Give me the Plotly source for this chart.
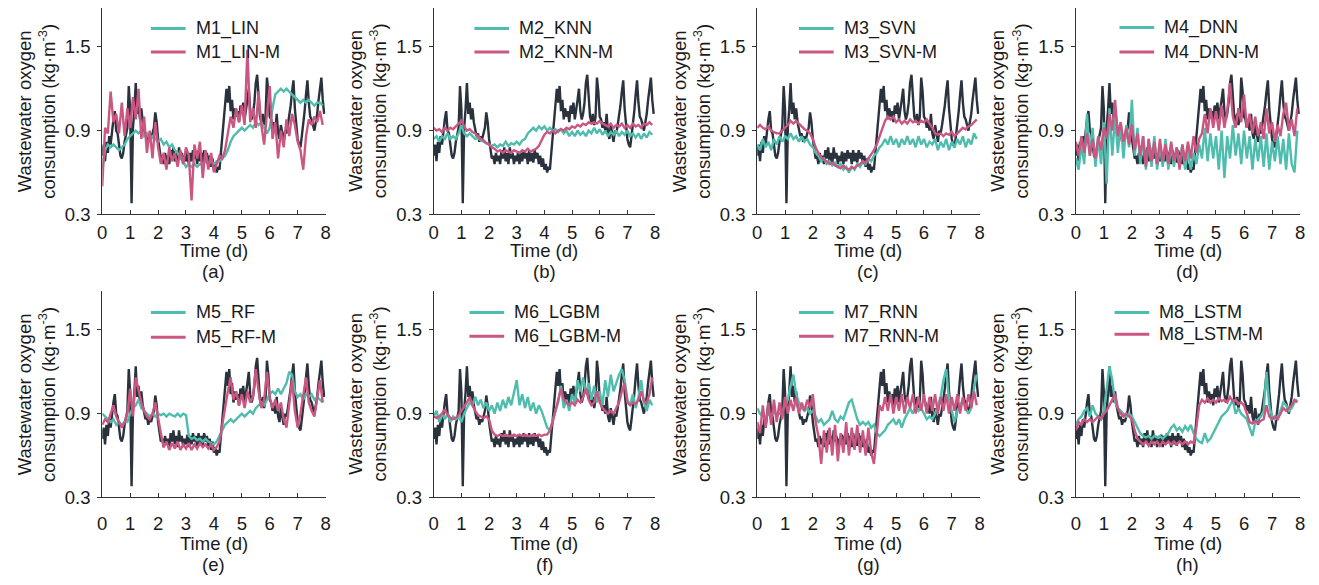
import plotly.graph_objects as go

W, H = 1319, 585

# Time grids (days)
T_OBS = [round(i * 0.05, 2) for i in range(160)]
T_MOD = [round(i * 0.1, 1) for i in range(80)]

# Measured wastewater oxygen consumption (kg/m3), every 0.05 d
OBSERVED = [
    0.72, 0.80, 0.68, 0.82, 0.74, 0.86, 0.80, 0.92, 0.98, 1.04, 0.90, 0.88, 0.80, 0.72, 0.70, 0.74, 0.82, 0.88, 0.92, 1.22,
    1.05, 0.38, 0.92, 1.05, 1.24, 1.02, 1.10, 0.98, 1.06, 0.96, 0.92, 0.86, 0.88, 0.82, 0.86, 0.84, 0.88, 0.92, 1.03, 0.96,
    0.84, 0.78, 0.70, 0.72, 0.66, 0.74, 0.68, 0.72, 0.66, 0.76, 0.70, 0.78, 0.68, 0.74, 0.66, 0.78, 0.70, 0.74, 0.66, 0.72,
    0.68, 0.75, 0.66, 0.74, 0.68, 0.76, 0.70, 0.74, 0.66, 0.76, 0.68, 0.74, 0.67, 0.76, 0.70, 0.74, 0.66, 0.72, 0.64, 0.70,
    0.62, 0.66, 0.60, 0.64, 0.62, 0.74, 0.86, 0.98, 1.12, 1.20, 1.10, 1.22, 1.04, 1.12, 0.98, 1.06, 1.00, 1.04, 0.96, 1.08,
    1.02, 1.10, 0.98, 1.04, 1.12, 1.20, 1.04, 0.98, 1.02, 1.10, 1.24, 1.30, 1.10, 1.00, 0.96, 1.02, 0.94, 1.00, 1.28, 1.18,
    1.00, 0.98, 0.92, 0.96, 0.90, 1.02, 0.88, 0.84, 0.94, 0.86, 0.82, 0.90, 0.88, 0.94, 1.00, 1.08, 1.18, 1.26, 1.06, 0.92,
    0.84, 0.80, 0.78, 0.86, 0.94, 1.04, 1.16, 1.26, 1.10, 1.00, 0.98, 0.94, 0.90, 0.96, 1.02, 1.12, 1.22, 1.28, 1.12, 1.02,
]

# Model predictions (kg/m3), every 0.1 d
M1_LIN = [
    0.62, 0.76, 0.80, 0.78, 0.80, 0.78, 0.76, 0.78, 0.80, 0.84,
    0.86, 0.88, 0.90, 0.88, 0.90, 0.86, 0.88, 0.84, 0.86, 0.84,
    0.82, 0.84, 0.80, 0.82, 0.78, 0.80, 0.76, 0.74, 0.70, 0.68,
    0.64, 0.66, 0.64, 0.66, 0.64, 0.66, 0.66, 0.68, 0.66, 0.68,
    0.66, 0.68, 0.68, 0.70, 0.72, 0.76, 0.82, 0.86, 0.88, 0.90,
    0.92, 0.90, 0.92, 0.94, 0.92, 0.96, 0.94, 0.96, 0.92, 0.88,
    0.92, 1.06, 1.16, 1.18, 1.20, 1.18, 1.20, 1.18, 1.16, 1.14,
    1.12, 1.10, 1.12, 1.10, 1.12, 1.10, 1.08, 1.10, 1.10, 1.08,
]
M1_LIN_M = [
    0.50, 0.92, 0.88, 1.18, 0.96, 1.02, 0.88, 1.10, 0.86, 1.06,
    0.92, 1.14, 0.98, 1.20, 0.84, 1.00, 0.74, 0.90, 0.70, 0.96,
    0.78, 0.66, 0.74, 0.62, 0.78, 0.68, 0.74, 0.64, 0.76, 0.66,
    0.78, 0.72, 0.40, 0.80, 0.70, 0.82, 0.56, 0.76, 0.62, 0.74,
    0.60, 0.66, 0.72, 0.70, 0.76, 0.88, 1.00, 0.92, 1.06, 0.96,
    1.08, 0.94, 1.48, 0.96, 1.06, 0.92, 1.18, 0.94, 0.80, 1.02,
    1.22, 0.84, 0.96, 0.70, 0.90, 0.78, 0.98, 0.86, 1.02, 0.94,
    0.82, 0.76, 0.62, 0.86, 0.98, 0.94, 1.00, 0.96, 1.04, 0.94,
]
M2_KNN = [
    0.84, 0.86, 0.82, 0.86, 0.84, 0.88, 0.84, 0.86, 0.84, 0.88,
    0.94, 0.88, 0.86, 0.88, 0.86, 0.84, 0.85, 0.83, 0.82, 0.81,
    0.80, 0.79, 0.80, 0.78, 0.80, 0.79, 0.82, 0.79, 0.81, 0.80,
    0.82, 0.80, 0.83, 0.84, 0.88, 0.90, 0.92, 0.90, 0.93, 0.91,
    0.93, 0.90, 0.92, 0.90, 0.91, 0.89, 0.91, 0.88, 0.90, 0.86,
    0.89, 0.86, 0.90, 0.87, 0.89, 0.86, 0.90, 0.88, 0.92, 0.88,
    0.91, 0.87, 0.90, 0.86, 0.89, 0.87, 0.90, 0.86, 0.89, 0.87,
    0.90, 0.86, 0.88, 0.85, 0.88, 0.84, 0.88, 0.85, 0.89, 0.87,
]
M2_KNN_M = [
    0.92, 0.90, 0.91, 0.89, 0.92, 0.90, 0.92, 0.91, 0.93, 0.95,
    0.97, 0.93, 0.90, 0.91, 0.89, 0.88, 0.86, 0.84, 0.83, 0.81,
    0.80, 0.78, 0.77, 0.75, 0.76, 0.74, 0.76, 0.75, 0.74, 0.76,
    0.75, 0.74, 0.76, 0.75, 0.77, 0.75, 0.76, 0.77, 0.79, 0.83,
    0.87, 0.89, 0.88, 0.90, 0.88, 0.90, 0.91, 0.90, 0.92, 0.91,
    0.93, 0.92, 0.94, 0.93, 0.95, 0.94, 0.96, 0.95, 0.96, 0.95,
    0.97, 0.95, 0.94, 0.93, 0.95, 0.92, 0.94, 0.93, 0.95, 0.92,
    0.94, 0.92, 0.95, 0.93, 0.94, 0.92, 0.95, 0.94, 0.96, 0.94,
]
M3_SVN = [
    0.80, 0.76, 0.84, 0.78, 0.82, 0.76, 0.84, 0.80, 0.86, 0.82,
    0.86, 0.84, 0.88, 0.84, 0.86, 0.82, 0.86, 0.82, 0.84, 0.80,
    0.78, 0.74, 0.72, 0.68, 0.70, 0.66, 0.68, 0.65, 0.67, 0.64,
    0.66, 0.62, 0.64, 0.60, 0.64, 0.62, 0.66, 0.64, 0.68, 0.66,
    0.70, 0.68, 0.72, 0.74, 0.78, 0.80, 0.84, 0.80, 0.86, 0.80,
    0.84, 0.78, 0.84, 0.80, 0.86, 0.80, 0.84, 0.78, 0.86, 0.80,
    0.84, 0.78, 0.82, 0.80, 0.84, 0.76, 0.82, 0.78, 0.84, 0.76,
    0.82, 0.78, 0.84, 0.80, 0.86, 0.78, 0.84, 0.80, 0.88, 0.84,
]
M3_SVN_M = [
    0.92, 0.94, 0.92, 0.91, 0.93, 0.90, 0.89, 0.88, 0.88, 0.90,
    0.92, 0.94, 0.97, 0.95, 0.97, 0.95, 0.93, 0.91, 0.90, 0.88,
    0.84, 0.78, 0.74, 0.71, 0.69, 0.68, 0.66, 0.67, 0.65, 0.64,
    0.63, 0.65, 0.63, 0.62, 0.64, 0.63, 0.65, 0.66, 0.68, 0.67,
    0.70, 0.73, 0.76, 0.80, 0.86, 0.92, 0.97, 1.00, 0.98, 1.00,
    0.96, 0.98, 0.95, 0.97, 0.95, 0.98, 0.96, 0.97, 0.95, 0.97,
    0.96, 0.98, 0.95, 0.92, 0.88, 0.87, 0.88, 0.86, 0.88, 0.87,
    0.89, 0.86, 0.88, 0.90, 0.92, 0.91, 0.93, 0.94, 0.96, 0.98,
]
M4_DNN = [
    0.70, 0.62, 0.80, 0.66, 1.02, 0.72, 0.92, 0.64, 0.86, 0.66,
    0.96, 0.52, 1.06, 0.72, 1.00, 0.74, 0.96, 0.70, 0.94, 0.78,
    1.12, 0.72, 0.92, 0.66, 0.86, 0.62, 0.84, 0.64, 0.86, 0.62,
    0.80, 0.64, 0.84, 0.62, 0.80, 0.64, 0.78, 0.66, 0.80, 0.62,
    0.76, 0.62, 0.74, 0.66, 0.80, 0.70, 0.92, 0.68, 0.88, 0.70,
    0.86, 0.62, 0.90, 0.56, 0.86, 0.70, 0.94, 0.72, 0.88, 0.66,
    0.90, 0.70, 0.86, 0.62, 0.84, 0.68, 0.86, 0.64, 0.88, 0.62,
    0.82, 0.68, 0.86, 0.66, 0.84, 0.62, 0.88, 0.66, 0.60, 0.90,
]
M4_DNN_M = [
    0.82, 0.72, 0.86, 0.74, 0.88, 0.72, 0.84, 0.70, 0.86, 0.76,
    0.92, 0.84, 1.02, 0.90, 1.12, 0.86, 0.96, 0.82, 0.92, 0.80,
    0.94, 0.76, 0.88, 0.72, 0.86, 0.64, 0.84, 0.68, 0.82, 0.66,
    0.84, 0.68, 0.80, 0.66, 0.82, 0.68, 0.78, 0.62, 0.80, 0.68,
    0.82, 0.70, 0.86, 0.74, 0.84, 0.88, 1.02, 0.88, 1.06, 0.92,
    1.04, 0.90, 1.08, 0.92, 1.04, 1.24, 1.00, 0.92, 1.06, 0.96,
    1.16, 0.92, 1.02, 0.88, 1.00, 0.86, 0.96, 0.84, 1.06, 0.88,
    0.96, 0.82, 0.94, 0.86, 1.02, 1.10, 0.90, 0.98, 0.86, 1.06,
]
M5_RF = [
    0.90, 0.88, 0.86, 0.84, 0.86, 0.82, 0.84, 0.82, 0.84, 0.84,
    0.90, 0.94, 0.96, 1.00, 0.94, 0.92, 0.90, 0.88, 0.90, 0.88,
    0.90, 0.89, 0.90, 0.88, 0.90, 0.89, 0.88, 0.90, 0.88, 0.90,
    0.89, 0.74, 0.72, 0.73, 0.71, 0.72, 0.70, 0.72, 0.70, 0.69,
    0.68, 0.70, 0.74, 0.78, 0.82, 0.84, 0.86, 0.84, 0.86, 0.88,
    0.90, 0.88, 0.90, 0.92, 0.90, 0.94, 0.96, 0.98, 0.96, 1.00,
    1.04, 1.06, 1.04, 1.08, 1.04, 1.08, 1.12, 1.20, 1.18, 1.06,
    1.02, 1.04, 1.00, 1.04, 1.02, 1.04, 1.00, 1.02, 1.00, 0.98,
]
M5_RF_M = [
    0.82, 0.86, 0.84, 0.90, 0.96, 0.88, 0.84, 0.80, 0.84, 0.90,
    1.08, 0.88, 1.16, 1.06, 0.98, 0.92, 0.88, 0.86, 0.90, 0.98,
    0.86, 0.76, 0.66, 0.70, 0.64, 0.69, 0.65, 0.70, 0.64, 0.68,
    0.65, 0.69, 0.64, 0.68, 0.65, 0.69, 0.66, 0.68, 0.65, 0.68,
    0.64, 0.66, 0.70, 0.82, 0.96, 1.06, 1.16, 1.00, 1.06, 0.96,
    1.04, 0.94, 1.06, 0.98, 1.02, 1.22, 1.06, 0.94, 1.00, 1.20,
    1.02, 0.94, 1.00, 0.92, 0.98, 0.86, 0.80, 0.96, 1.14, 0.92,
    0.80, 0.90, 1.02, 1.16, 0.98, 0.92, 0.88, 1.00, 1.14, 0.98,
]
M6_LGBM = [
    0.88, 0.92, 0.84, 0.90, 0.86, 0.90, 0.84, 0.88, 0.86, 0.88,
    0.84, 0.90, 0.94, 0.98, 0.96, 1.02, 0.96, 1.00, 0.94, 0.98,
    0.92, 0.96, 0.90, 0.98, 0.92, 1.00, 0.94, 1.02, 0.96, 1.06,
    1.14, 0.96, 1.04, 0.94, 1.02, 0.92, 0.98, 0.90, 0.96, 0.92,
    0.86, 0.80, 0.78, 0.86, 0.92, 0.98, 1.10, 0.94, 1.00, 0.92,
    1.04, 0.98, 1.14, 1.06, 1.16, 1.04, 1.12, 1.00, 1.10, 0.98,
    1.06, 0.96, 1.14, 1.02, 1.18, 1.06, 1.12, 1.18, 1.22, 1.14,
    1.00, 0.96, 1.04, 0.94, 1.02, 1.14, 0.98, 0.92, 1.00, 0.96,
]
M6_LGBM_M = [
    0.88, 0.87, 0.88, 0.90, 0.93, 0.89, 0.87, 0.86, 0.87, 0.89,
    0.92, 0.95, 0.98, 1.02, 0.96, 0.92, 0.89, 0.88, 0.87, 0.88,
    0.86, 0.78, 0.75, 0.74, 0.75, 0.74, 0.75, 0.74, 0.74, 0.75,
    0.74, 0.75, 0.74, 0.75, 0.74, 0.74, 0.75, 0.74, 0.75, 0.74,
    0.75, 0.75, 0.78, 0.84, 0.92, 1.00, 1.08, 1.00, 0.98, 0.96,
    0.98, 0.96, 1.00, 0.98, 1.02, 1.08, 1.00, 0.96, 0.98, 1.06,
    0.98, 0.94, 0.92, 0.90, 0.92, 0.90, 0.94, 0.98, 1.06, 1.12,
    0.98, 0.96, 0.98, 0.97, 1.00, 1.06, 0.99, 0.98, 1.04, 1.16,
]
M7_RNN = [
    0.94, 0.90, 0.88, 0.86, 0.90, 0.88, 0.92, 0.88, 0.90, 0.92,
    0.96, 1.00, 1.10, 1.18, 1.04, 0.98, 0.94, 0.92, 0.94, 0.90,
    0.92, 0.88, 0.84, 0.86, 0.82, 0.84, 0.86, 0.92, 0.86, 0.84,
    0.88, 0.86, 0.92, 0.98, 1.00, 0.92, 0.86, 0.82, 0.84, 0.82,
    0.84, 0.80, 0.82, 0.76, 0.74, 0.76, 0.78, 0.82, 0.84, 0.86,
    0.82, 0.86, 0.80, 0.86, 0.90, 0.94, 0.90, 0.96, 0.92, 0.94,
    0.90, 0.86, 0.88, 0.86, 0.90, 0.96, 1.02, 1.14, 1.22, 1.00,
    0.92, 0.84, 0.92, 0.96, 1.00, 0.94, 0.90, 0.94, 1.08, 1.18,
]
M7_RNN_M = [
    0.84, 0.76, 0.96, 0.80, 0.98, 0.82, 1.00, 0.84, 0.98, 0.86,
    1.02, 0.90, 1.00, 0.92, 1.02, 0.90, 0.98, 0.92, 1.00, 0.94,
    1.04, 0.84, 0.74, 0.54, 0.78, 0.62, 0.80, 0.60, 0.82, 0.56,
    0.76, 0.62, 0.84, 0.60, 0.80, 0.64, 0.82, 0.62, 0.78, 0.60,
    0.80, 0.62, 0.54, 0.76, 0.96, 0.92, 1.02, 0.92, 1.04, 0.90,
    1.02, 0.92, 1.04, 0.90, 1.02, 0.94, 1.04, 0.90, 1.02, 0.92,
    1.04, 0.90, 1.02, 0.92, 1.04, 0.90, 1.02, 0.92, 1.04, 0.90,
    1.02, 0.92, 1.04, 0.90, 1.02, 0.92, 1.04, 0.94, 1.06, 0.96,
]
M8_LSTM = [
    0.82, 0.86, 0.88, 0.92, 0.94, 0.88, 0.96, 0.90, 0.88, 0.86,
    0.92, 1.08, 1.24, 1.14, 0.98, 0.94, 0.92, 0.90, 0.88, 0.90,
    0.88, 0.84, 0.80, 0.76, 0.74, 0.73, 0.74, 0.72, 0.74, 0.73,
    0.74, 0.72, 0.74, 0.76, 0.80, 0.82, 0.78, 0.80, 0.77, 0.81,
    0.78, 0.82, 0.76, 0.72, 0.70, 0.69, 0.76, 0.70, 0.72, 0.76,
    0.80, 0.84, 0.88, 0.90, 0.92, 0.96, 1.00, 0.90, 0.94, 0.90,
    0.88, 0.86, 0.80, 0.74, 0.84, 0.86, 0.88, 0.92, 1.20, 0.96,
    0.88, 0.86, 0.88, 0.92, 0.98, 0.96, 0.92, 0.94, 0.98, 1.00,
]
M8_LSTM_M = [
    0.78, 0.84, 0.82, 0.86, 0.84, 0.86, 0.84, 0.86, 0.88, 0.86,
    0.90, 0.92, 0.96, 1.00, 1.04, 0.94, 0.90, 0.88, 0.90, 0.88,
    0.86, 0.78, 0.72, 0.70, 0.68, 0.70, 0.67, 0.70, 0.68, 0.70,
    0.67, 0.70, 0.68, 0.70, 0.68, 0.70, 0.68, 0.70, 0.68, 0.70,
    0.68, 0.70, 0.69, 0.80, 0.96, 1.00, 0.98, 1.01, 0.98, 1.00,
    0.98, 1.01, 0.99, 1.00, 0.98, 1.02, 0.99, 1.00, 0.97, 0.98,
    0.96, 0.90, 0.84, 0.83, 0.85, 0.83, 0.85, 0.86, 0.96, 0.88,
    0.86, 0.88, 0.86, 0.90, 0.94, 0.92, 0.94, 0.96, 1.00, 0.98,
]

PANEL_LABELS = ["(a)", "(b)", "(c)", "(d)", "(e)", "(f)", "(g)", "(h)"]
MODEL_NAMES = ["M1_LIN", "M2_KNN", "M3_SVN", "M4_DNN", "M5_RF", "M6_LGBM", "M7_RNN", "M8_LSTM"]
BASE_PRED = [M1_LIN, M2_KNN, M3_SVN, M4_DNN, M5_RF, M6_LGBM, M7_RNN, M8_LSTM]
MOD_PRED = [M1_LIN_M, M2_KNN_M, M3_SVN_M, M4_DNN_M, M5_RF_M, M6_LGBM_M, M7_RNN_M, M8_LSTM_M]
X_TICKS = list(range(9))
Y_TICKS = [0.3, 0.9, 1.5]
Y_TICKTEXT = ["0.3", "0.9", "1.5"]

DARK = "#29323d"
TEAL = "#4fbdae"
PINK = "#c95781"
AXIS = "#333333"
TXT = "#1a1a1a"
FONT = "Liberation Sans, Arial, sans-serif"
FS = 18.5
FS_LEG = 18

# Plot-area geometry in pixels: column (left, right), row (top, bottom)
COLS = [(98, 323), (432, 655), (758, 982), (1079, 1305)]
ROWS = [(8, 218), (296, 506)]
# per-row offsets below the x axis: tick-label standoff, "Time (d)" centre, panel label centre
ROW_TEXT = [(1, 37, 58), (9, 47, 68)]
# legend key: start offset from the y axis and the centre rows of the two entries
LEG_DX = [49, 41, 42, 44, 49, 36, 42, 39]
LEG_DY = [(21, 45), (21, 45), (21, 45), (20, 45), (22, 47), (22, 46), (22, 46), (22, 44)]
KEY_LEN, KEY_GAP = 35, 43

fig = go.Figure()
annotations, shapes = [], []

for k in range(8):
    r, c = divmod(k, 4)
    x0, x1 = COLS[c]
    y0, y1 = ROWS[r]
    standoff, title_dy, label_dy = ROW_TEXT[r]
    sfx = "" if k == 0 else str(k + 1)
    xa, ya = "x" + sfx, "y" + sfx

    fig.add_trace(go.Scatter(x=T_OBS, y=OBSERVED, mode="lines", xaxis=xa, yaxis=ya,
                             name="Observed", line=dict(color=DARK, width=2.4), showlegend=False))
    fig.add_trace(go.Scatter(x=T_MOD, y=BASE_PRED[k], mode="lines", xaxis=xa, yaxis=ya,
                             name=MODEL_NAMES[k], line=dict(color=TEAL, width=2.4), showlegend=False))
    fig.add_trace(go.Scatter(x=T_MOD, y=MOD_PRED[k], mode="lines", xaxis=xa, yaxis=ya,
                             name=MODEL_NAMES[k] + "-M", line=dict(color=PINK, width=2.4), showlegend=False))

    fig.layout["xaxis" + sfx] = dict(
        domain=[x0 / W, x1 / W], anchor=ya, range=[0, 8],
        tickvals=X_TICKS, ticks="inside", ticklen=4, tickcolor=AXIS, ticklabelstandoff=standoff,
        showline=True, linecolor=AXIS, linewidth=1.2, showgrid=False, zeroline=False,
        tickfont=dict(family=FONT, size=FS, color=TXT))
    fig.layout["yaxis" + sfx] = dict(
        domain=[1 - y1 / H, 1 - y0 / H], anchor=xa, range=[0.3, 1.78],
        tickvals=Y_TICKS, ticktext=Y_TICKTEXT,
        ticks="outside", ticklen=4, tickcolor=AXIS, ticklabelstandoff=3,
        showline=True, linecolor=AXIS, linewidth=1.2, showgrid=False, zeroline=False,
        tickfont=dict(family=FONT, size=FS, color=TXT))

    # legend keys and names
    kx = x0 + LEG_DX[k]
    for dy, color, name in zip(LEG_DY[k], (TEAL, PINK), (MODEL_NAMES[k], MODEL_NAMES[k] + "-M")):
        yy = 1 - (y0 + dy) / H
        shapes.append(dict(type="line", xref="paper", yref="paper",
                           x0=kx / W, x1=(kx + KEY_LEN) / W, y0=yy, y1=yy,
                           line=dict(color=color, width=3)))
        annotations.append(dict(text=name, x=(kx + KEY_GAP) / W, y=yy, xref="paper", yref="paper",
                                xanchor="left", yanchor="middle", showarrow=False,
                                font=dict(family=FONT, size=FS_LEG, color=TXT)))

    annotations.append(dict(
        text="Wastewater oxygen<br>consumption (kg·m<sup>-3</sup>)", textangle=-90,
        x=(x0 - 67) / W, y=1 - (y0 + y1) / 2 / H, xref="paper", yref="paper",
        xanchor="center", yanchor="middle", showarrow=False,
        font=dict(family=FONT, size=FS, color=TXT)))
    annotations.append(dict(
        text="Time (d)", x=(x0 + x1) / 2 / W, y=1 - (y1 + title_dy) / H,
        xref="paper", yref="paper", xanchor="center", yanchor="middle", showarrow=False,
        font=dict(family=FONT, size=FS, color=TXT)))
    annotations.append(dict(
        text=PANEL_LABELS[k], x=(x0 + x1) / 2 / W, y=1 - (y1 + label_dy) / H,
        xref="paper", yref="paper", xanchor="center", yanchor="middle", showarrow=False,
        font=dict(family=FONT, size=FS, color=TXT)))

fig.update_layout(
    width=W, height=H, margin=dict(l=0, r=0, t=0, b=0),
    paper_bgcolor="white", plot_bgcolor="white",
    showlegend=False, annotations=annotations, shapes=shapes,
)

fig.write_html("out.html", config={"displayModeBar": False})
